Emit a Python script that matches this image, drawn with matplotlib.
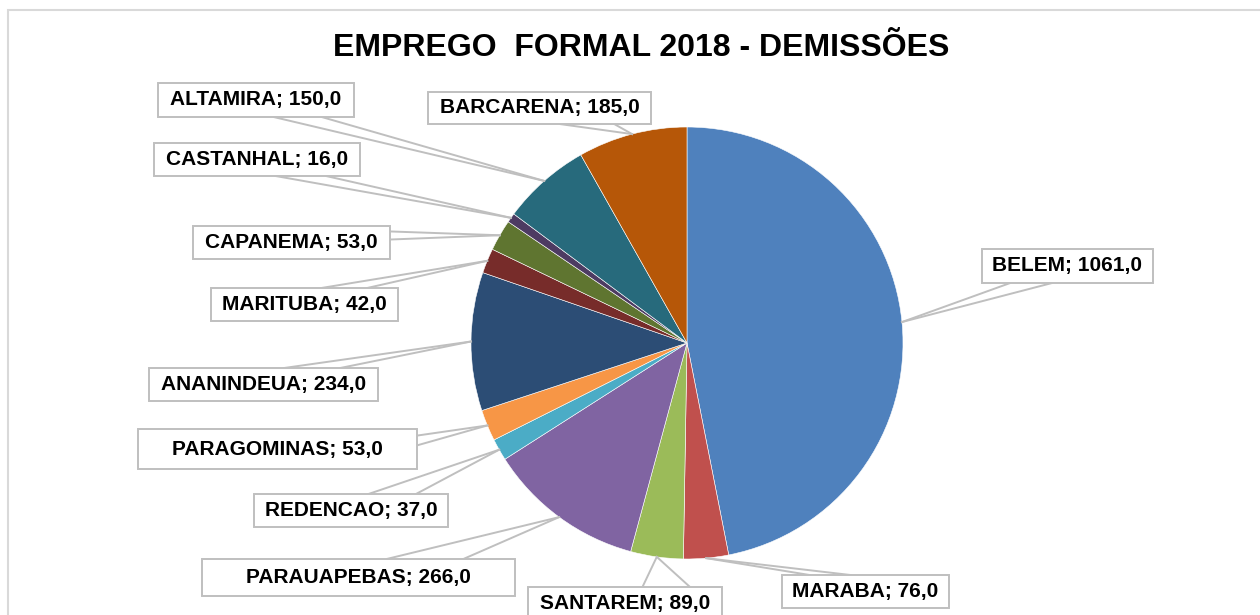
import numpy as np
import matplotlib
matplotlib.use("Agg")
import matplotlib.pyplot as plt
from matplotlib.patches import Rectangle

# Data
cities = ["BELEM", "MARABA", "SANTAREM", "PARAUAPEBAS", "REDENCAO", "PARAGOMINAS",
          "ANANINDEUA", "MARITUBA", "CAPANEMA", "CASTANHAL", "ALTAMIRA", "BARCARENA"]
demissoes = [1061, 76, 89, 266, 37, 53, 234, 42, 53, 16, 150, 185]
colors = ["#4F81BD", "#C0504D", "#9BBB59", "#8064A2", "#4BACC6", "#F79646",
          "#2C4D75", "#772C2A", "#5F7530", "#4D3B62", "#276A7C", "#B65708"]

# Label box extents in pixels (left, top, right, bottom), top-down
boxes = [(982, 249, 1153, 283), (782, 575, 949, 608), (528, 587, 722, 621),
         (202, 559, 515, 596), (254, 494, 448, 527), (138, 429, 417, 469),
         (149, 368, 378, 401), (211, 288, 398, 321), (193, 226, 390, 259),
         (154, 143, 360, 176), (158, 83, 354, 117), (428, 92, 651, 124)]

W, H = 1260, 615
cx, cy, r = 687, 343, 216
gray = "#BFBFBF"

plt.rcParams["font.family"] = ["Liberation Sans", "DejaVu Sans"]

fig = plt.figure(figsize=(W / 100, H / 100), dpi=100)
ax = fig.add_axes([0, 0, 1, 1])
ax.set_xlim(0, W)
ax.set_ylim(0, H)
ax.set_aspect("equal")
ax.axis("off")

# outer chart frame
ax.add_patch(Rectangle((8, -20), W + 20, H - 10 + 20, fill=False, ec="#D9D9D9", lw=1.5))

wedges, _ = ax.pie(demissoes, colors=colors, startangle=90, counterclock=False,
                   center=(cx, H - cy), radius=r,
                   wedgeprops=dict(edgecolor="white", linewidth=0.4))
ax.set_xlim(0, W)
ax.set_ylim(0, H)

ax.text(641, H - 48, "EMPREGO  FORMAL 2018 - DEMISSÕES", ha="center", va="center",
        fontsize=23, fontweight="bold")


def fmt(v):
    return f"{v:.1f}".replace(".", ",")


f1, f2 = 0.165, 0.41
for w, name, val, (l, t, rr, b) in zip(wedges, cities, demissoes, boxes):
    mid = np.deg2rad((w.theta1 + w.theta2) / 2)
    axp = cx + r * np.cos(mid)
    ayp = cy - r * np.sin(mid)  # pixel y (top-down)
    bw, bh = rr - l, b - t
    if t - 10 <= ayp <= b + 10:
        xe = rr if axp > rr else l
        if ayp < (t + b) / 2:
            pts = [(xe, t + f1 * bh), (xe, t + f2 * bh)]
        else:
            pts = [(xe, b - f1 * bh), (xe, b - f2 * bh)]
    else:
        ye = b if ayp > b else t
        if axp > (l + rr) / 2:
            pts = [(rr - f1 * bw, ye), (rr - f2 * bw, ye)]
        else:
            pts = [(l + f1 * bw, ye), (l + f2 * bw, ye)]
    for px, py in pts:
        ax.plot([axp, px], [H - ayp, H - py], color=gray, lw=1.4, zorder=3)
    ax.add_patch(Rectangle((l, H - b), bw, bh, facecolor="white", edgecolor=gray,
                           lw=1.4, zorder=4))
    ax.text((l + rr) / 2, H - (t + b) / 2, f"{name}; {fmt(val)}", ha="center",
            va="center", fontsize=15, fontweight="bold", zorder=5)

fig.savefig("out.png", dpi=100)
